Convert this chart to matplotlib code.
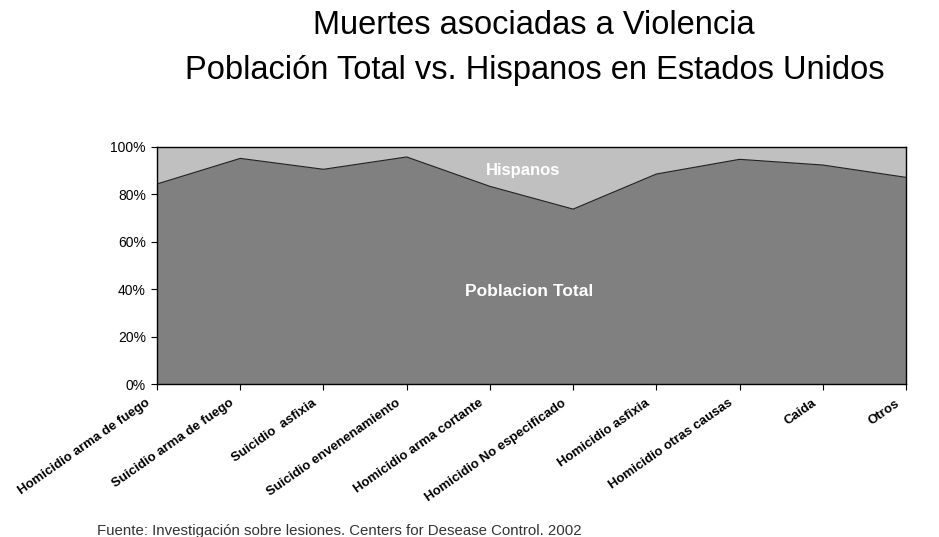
import numpy as np
import matplotlib.pyplot as plt
from matplotlib.ticker import PercentFormatter
from matplotlib.transforms import ScaledTranslation

plt.rcParams['font.family'] = ['Liberation Sans', 'DejaVu Sans']

categories = [
    "Homicidio arma de fuego",
    "Suicidio arma de fuego",
    "Suicidio  asfixia",
    "Suicidio envenenamiento",
    "Homicidio arma cortante",
    "Homicidio No especificado",
    "Homicidio asfixia",
    "Homicidio otras causas",
    "Caida",
    "Otros",
]
poblacion_total = [84.4, 95.2, 90.6, 95.8, 83.4, 73.8, 88.6, 94.8, 92.4, 87.2]
hispanos = [100 - v for v in poblacion_total]

fig = plt.figure(figsize=(9.39, 5.37), dpi=100)
ax = fig.add_axes([157 / 939, 1 - 384 / 537, 749 / 939, 237 / 537])

x = np.arange(len(categories))
ax.stackplot(x, poblacion_total, hispanos, colors=["#808080", "#c0c0c0"])
ax.plot(x, poblacion_total, color="#202020", lw=0.8)

ax.set_xlim(0, len(categories) - 1)
ax.set_ylim(0, 100)
ax.set_yticks(range(0, 101, 20))
ax.yaxis.set_major_formatter(PercentFormatter(decimals=0))
ax.set_xticks(x)
ax.set_xticklabels(categories, rotation=35, ha="right", va="center",
                   rotation_mode="anchor", fontsize=9.5, fontweight="bold")
ax.tick_params(axis="y", labelsize=10, length=4, width=0.8, pad=4)
ax.tick_params(axis="x", length=4, width=0.8, pad=9)
shift = ScaledTranslation(-8 / 100, 0, fig.dpi_scale_trans)
for lab in ax.get_xticklabels():
    lab.set_transform(lab.get_transform() + shift)
for s in ax.spines.values():
    s.set_linewidth(1)

ax.text(4.4, 90, "Hispanos", color="white", fontsize=12, fontweight="bold",
        ha="center", va="center")
ax.text(4.47, 39, "Poblacion Total", color="white", fontsize=12.5, fontweight="bold",
        ha="center", va="center")

fig.text(534 / 939, 1 - 26 / 537, "Muertes asociadas a Violencia",
         fontsize=23.5, ha="center", va="center")
fig.text(535 / 939, 1 - 70 / 537, "Población Total vs. Hispanos en Estados Unidos",
         fontsize=23.5, ha="center", va="center")
fig.text(97 / 939, 1 - 531 / 537,
         "Fuente: Investigación sobre lesiones. Centers for Desease Control. 2002",
         fontsize=10.8, color="#333333", ha="left", va="center")

fig.savefig("out.png", dpi=100)
